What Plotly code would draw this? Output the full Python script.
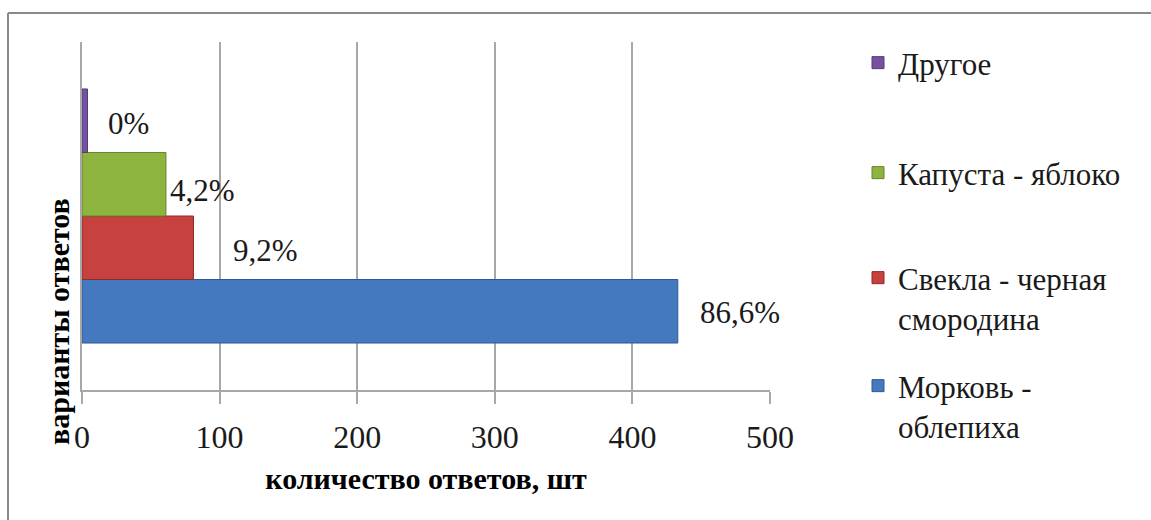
import plotly.graph_objects as go

# ---- data ----
series_names = ["Морковь -<br>облепиха", "Свекла - черная<br>смородина", "Капуста - яблоко", "Другое"]
series_values = [433, 81, 61, 4]
series_labels = ["86,6%", "9,2%", "4,2%", "0%"]
x_ticks = [0, 100, 200, 300, 400, 500]
x_title = "количество ответов, шт"
y_title = "варианты ответов"

# ---- styles ----
fill_colors = ["#4478bf", "#c7413e", "#8db43f", "#7850a0"]
line_colors = ["#2c5a94", "#8e2a28", "#66842b", "#563a78"]
label_xshift = [20, 38, 2, 18]
label_yshift = [-1, -3, -6, -3]
legend_ids = ["legend4", "legend3", "legend2", "legend"]
legend_text_y = [406, 298, 173, 63]   # pixel centre of each legend block

W, H = 1151, 520
L, R, T, B = 82, 381, 42, 130
PW, PH = W - L - R, H - T - B
SERIF = "Liberation Serif"


def px_x(x):
    return (x - L) / PW


def px_y(y):
    return (H - B - y) / PH


bargap = 0.27
n = len(series_values)
bw = (1 - bargap) / n

fig = go.Figure()
legend_common = dict(
    font=dict(family=SERIF, size=31, color="#1a1a1a"),
    bgcolor="rgba(0,0,0,0)", xanchor="left", yanchor="middle", valign="top",
    itemclick=False, itemdoubleclick=False,
)
for i, (name, val) in enumerate(zip(series_names, series_values)):
    fig.add_trace(go.Bar(
        x=[val], y=[0], orientation="h", name=name,
        marker=dict(color=fill_colors[i], line=dict(color=line_colors[i], width=1)),
        legend=legend_ids[i], hoverinfo="x+name",
    ))
    fig.add_annotation(
        x=val, y=-(1 - bargap) / 2 + bw * (i + 0.5), xref="x", yref="y",
        text=series_labels[i], showarrow=False, xanchor="left", yanchor="middle",
        xshift=label_xshift[i], yshift=label_yshift[i],
        font=dict(family=SERIF, size=31, color="#1a1a1a"),
    )
    fig.update_layout({legend_ids[i]: dict(x=px_x(858), y=px_y(legend_text_y[i]), **legend_common)})

fig.add_annotation(
    x=px_x(58), y=px_y(322), xref="paper", yref="paper", text="<b>" + y_title + "</b>",
    textangle=-90, showarrow=False, xanchor="center", yanchor="middle",
    font=dict(family=SERIF, size=30, color="#000000"),
)

# outer frame (top and left visible)
fig.add_shape(type="line", xref="paper", yref="paper", x0=px_x(8), x1=px_x(1160),
              y0=px_y(13), y1=px_y(13), line=dict(color="#8a8a8a", width=2))
fig.add_shape(type="line", xref="paper", yref="paper", x0=px_x(8), x1=px_x(8),
              y0=px_y(13), y1=px_y(530), line=dict(color="#8a8a8a", width=2))

fig.update_layout(
    width=W, height=H, margin=dict(l=L, r=R, t=T, b=B, autoexpand=False),
    paper_bgcolor="white", plot_bgcolor="white",
    font=dict(family=SERIF, color="#1a1a1a"),
    barmode="group", bargap=bargap, bargroupgap=0,
    showlegend=True,
    xaxis=dict(
        range=[0, 500], tickvals=x_ticks, ticktext=[str(t) for t in x_ticks],
        showgrid=True, gridcolor="#a8a8a8", gridwidth=1.5,
        showline=True, linecolor="#a8a8a8", linewidth=1.5,
        ticks="outside", ticklen=12, tickcolor="#a8a8a8", tickwidth=1.5,
        ticklabelstandoff=6,
        tickfont=dict(family=SERIF, size=32, color="#1a1a1a"),
        title=dict(text="<b>" + x_title + "</b>", standoff=14,
                   font=dict(family=SERIF, size=30, color="#000000")),
        zeroline=False, fixedrange=True,
    ),
    yaxis=dict(
        range=[-0.5, 0.5], showticklabels=False, showgrid=False, zeroline=False,
        showline=True, linecolor="#a8a8a8", linewidth=1.5, ticks="", fixedrange=True,
    ),
)

fig.write_html("out.html", config={"displayModeBar": False},
               post_script="document.body.style.margin='0';")
